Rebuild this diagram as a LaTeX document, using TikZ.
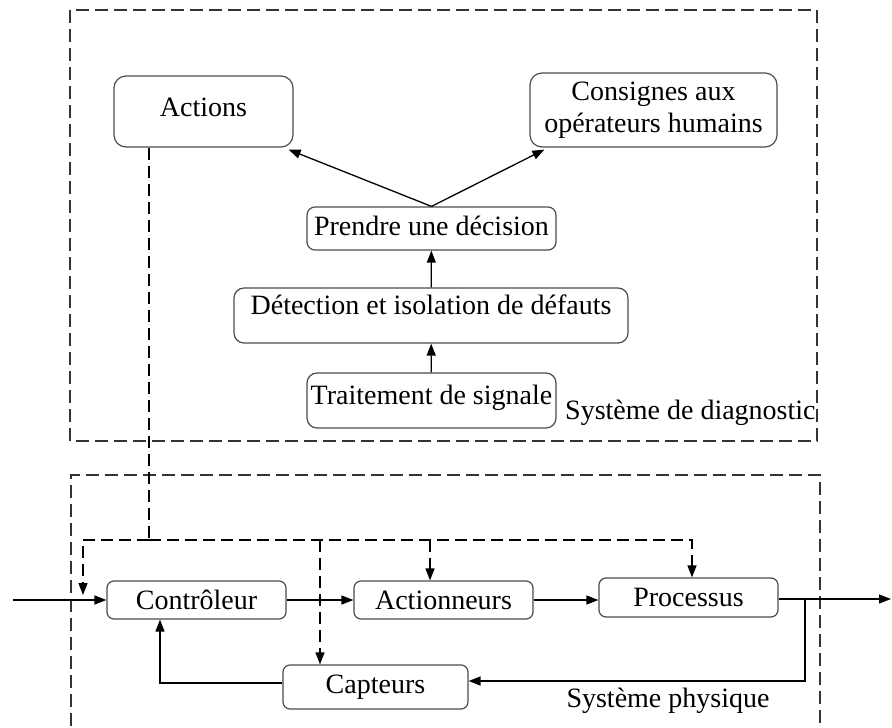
\documentclass[tikz,border=0pt]{standalone}
\usepackage{fontspec}
\setmainfont{Liberation Serif}
\usetikzlibrary{arrows.meta,calc}

\tikzset{
  box/.style={draw=black!70, line width=1.2pt, rounded corners=#1, inner sep=0pt,
              align=center, fill=white},
  box/.default=10pt,
  oneline/.style={text height=19pt, text depth={6pt+2*#1}},
  oneline/.default=0pt,
  link/.style={line width=1.3pt, -{Triangle[length=12pt,width=9pt]}},
  plain/.style={line width=1.3pt},
  dashlink/.style={line width=1.3pt, dash pattern=on 12pt off 6pt, -{Triangle[length=12pt,width=9pt]}},
  dashplain/.style={line width=1.3pt, dash pattern=on 12pt off 6pt},
  frame/.style={line width=1.4pt, draw=black!80, dash pattern=on 13pt off 6pt},
  caption/.style={inner sep=0pt},
}

\begin{document}
\begin{tikzpicture}[x=1pt, y=-1pt, font=\fontsize{28}{32}\selectfont]
\useasboundingbox (0,0) rectangle (892,728);
\fill[white] (0,0) rectangle (892,728);

% dashed enclosures
\draw[frame] (70,10) rectangle (817,441);
\draw[frame] (71,745) -- (71,475) -- (820,475) -- (820,745);

% diagnostic system
\node[box=12pt, minimum width=179pt, minimum height=71pt, oneline=2pt] (actions) at (203.5,111.5) {Actions};
\node[box=12pt, minimum width=247pt, minimum height=74pt] (consignes) at (653.5,110) {Consignes aux\\op\'erateurs humains};
\node[box=8pt, minimum width=249pt, minimum height=43pt, oneline] (decision) at (431.5,228.5) {Prendre une d\'ecision};
\node[box=10pt, minimum width=394pt, minimum height=55pt, oneline=8pt] (detection) at (431,315.5) {D\'etection et isolation de d\'efauts};
\node[box=10pt, minimum width=249pt, minimum height=55pt, oneline=3pt] (traitement) at (431.5,400.5) {Traitement de signale};
\node[caption, anchor=west] (diag) at (565,413) {Syst\`eme de diagnostic};

\draw[link] (traitement) -- (detection);
\draw[link] (detection) -- (decision);
\draw[link] (decision.north) -- ([xshift=-5pt,yshift=-2pt]actions.south east);
\draw[link] (decision.north) -- ([xshift=15pt,yshift=-2pt]consignes.south west);

% physical system
\node[box=7pt, minimum width=179pt, minimum height=38pt] (ctrl) at (196.5,600) {Contr\^oleur};
\node[box=7pt, minimum width=179pt, minimum height=38pt] (act) at (443.5,600) {Actionneurs};
\node[box=7pt, minimum width=179pt, minimum height=39pt] (proc) at (688.5,597.5) {Processus};
\node[box=7pt, minimum width=185pt, minimum height=44pt] (capt) at (375.5,687) {Capteurs};
\node[caption] (phys) at (668,701) {Syst\`eme physique};

\coordinate (in) at (13,600);
\coordinate (out) at (891,599);
\coordinate (split) at (805,599);
\coordinate (splitlow) at (805,681);
\coordinate (back) at (160,683);

\draw[link] (in) -- (ctrl.west);
\draw[link] (ctrl.east) -- (act.west);
\draw[link] (act.east) -- (act.east -| proc.west);
\draw[link] (proc.east |- out) -- (out);
\draw[link] (split) -- (splitlow) -- (splitlow -| capt.east);
\draw[link] (back -| capt.west) -- (back) -- (back |- ctrl.south);

% action signals from the diagnostic system
\coordinate (d1) at (149,540);
\coordinate (d0) at (83,540);
\coordinate (d0end) at (83,595);
\coordinate (d2) at (320,540);
\coordinate (d3) at (430,540);
\coordinate (d4) at (692,540);

\draw[dashplain] (actions.south -| d1) -- (d1);
\draw[dashlink] (d1) -- (d0) -- (d0end);
\draw[dashlink] (d1) -- (d4) -- (d4 |- proc.north);
\draw[dashlink] (d2) -- (d2 |- capt.north);
\draw[dashlink] (d3) -- (d3 |- act.north);
\end{tikzpicture}
\end{document}
